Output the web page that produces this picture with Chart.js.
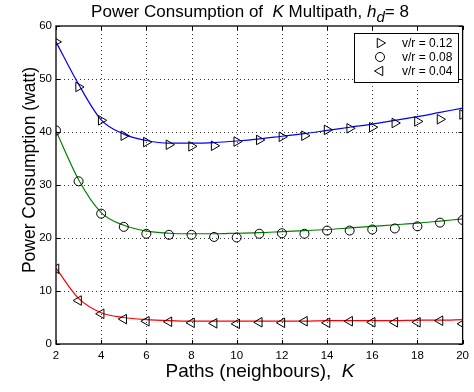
<!DOCTYPE html>
<html><head><meta charset="utf-8">
<script src="https://cdn.jsdelivr.net/npm/chart.js@4/dist/chart.umd.min.js"></script>
<style>html,body{margin:0;padding:0;background:#fff}</style>
</head><body>
<canvas id="c" width="474" height="392"></canvas>
<script>
const paths = [2,3,4,5,6,7,8,9,10,11,12,13,14,15,16,17,18,19,20];
const xTicks = [2,4,6,8,10,12,14,16,18,20];
const yTicks = [0,10,20,30,40,50,60];
const seriesLabels = ['v/r = 0.12','v/r = 0.08','v/r = 0.04'];
const measured012 = [57.0,48.5,42.2,39.3,38.1,37.6,37.3,37.4,38.2,38.5,39.1,39.3,40.4,40.7,40.9,41.7,42.0,42.4,43.3];
const measured008 = [40.3,30.7,24.6,22.1,20.8,20.6,20.6,20.2,20.1,20.8,20.9,20.8,21.4,21.4,21.6,21.8,22.2,22.9,23.4];
const measured004 = [14.2,8.2,5.7,4.7,4.3,4.2,4.0,3.9,3.8,4.1,4.0,4.3,4.0,4.3,4.1,4.1,4.1,4.4,3.8];
const fit012 = [57.0,49.0,42.3,39.6,38.4,37.9,37.9,38.0,38.3,38.7,39.2,39.7,40.3,40.9,41.5,42.2,42.9,43.7,44.5];
const fit008 = [40.2,31.0,24.8,22.4,21.3,20.9,20.8,20.8,20.9,21.0,21.2,21.4,21.6,21.9,22.2,22.5,22.8,23.2,23.6];
const fit004 = [14.3,8.6,5.9,5.0,4.6,4.4,4.3,4.3,4.3,4.3,4.3,4.3,4.4,4.4,4.4,4.4,4.5,4.5,4.6];
const lineColors = ['#0000ff','#008000','#ff0000'];
const markerStyles = [['triangle',90],['circle',0],['triangle',-90]];

const pts = arr => paths.map((k,i)=>({x:k,y:arr[i]}));
const fits = [fit012,fit008,fit004];
const meas = [measured012,measured008,measured004];
const datasets = [];
fits.forEach((f,i)=>datasets.push({type:'line',label:'fit'+i,data:pts(f),borderColor:lineColors[i],borderWidth:1.2,pointRadius:0,tension:0.4,cubicInterpolationMode:'monotone',fill:false,order:2}));
meas.forEach((m,i)=>datasets.push({type:'scatter',label:seriesLabels[i],data:pts(m),pointStyle:markerStyles[i][0],rotation:markerStyles[i][1],pointRadius:i===1?4.5:5.5,borderColor:'#000',backgroundColor:'rgba(0,0,0,0)',pointBorderWidth:1,showLine:false,order:1}));

const FONT = '"Liberation Sans", Arial, sans-serif';
const gridPlugin = {
  id:'gridDots',
  beforeDatasetsDraw(chart){
    const ctx = chart.ctx, a = chart.chartArea, xs = chart.scales.x, ys = chart.scales.y;
    ctx.save();
    ctx.strokeStyle='#333'; ctx.lineWidth=1; ctx.setLineDash([1,3]);
    ctx.beginPath();
    xTicks.slice(1,-1).forEach(t=>{const px=Math.round(xs.getPixelForValue(t))+0.5; ctx.moveTo(px,a.top); ctx.lineTo(px,a.bottom);});
    yTicks.slice(1,-1).forEach(t=>{const py=Math.round(ys.getPixelForValue(t))+0.5; ctx.moveTo(a.left,py); ctx.lineTo(a.right,py);});
    ctx.stroke();
    ctx.restore();
  }
};
const deco = {
  id:'deco',
  afterDraw(chart){
    const ctx = chart.ctx, a = chart.chartArea, xs = chart.scales.x, ys = chart.scales.y;
    ctx.save();
    ctx.strokeStyle='#000'; ctx.lineWidth=1;
    ctx.beginPath();
    xTicks.forEach(t=>{const px=Math.round(xs.getPixelForValue(t))+0.5; ctx.moveTo(px,a.bottom); ctx.lineTo(px,a.bottom-4); ctx.moveTo(px,a.top); ctx.lineTo(px,a.top+4);});
    yTicks.forEach(t=>{const py=Math.round(ys.getPixelForValue(t))+0.5; ctx.moveTo(a.left,py); ctx.lineTo(a.left+4,py); ctx.moveTo(a.right,py); ctx.lineTo(a.right-4,py);});
    ctx.stroke();
    ctx.lineWidth=1.3;
    ctx.strokeRect(a.left,a.top,a.right-a.left,a.bottom-a.top);
    // legend
    const lx=354, ly=33, lw=104, lh=49;
    ctx.fillStyle='#fff'; ctx.fillRect(lx,ly,lw,lh);
    ctx.lineWidth=1; ctx.strokeStyle='#000'; ctx.strokeRect(lx+0.5,ly+0.5,lw,lh);
    ctx.font='12px '+FONT; ctx.textBaseline='middle'; ctx.textAlign='left';
    const rowsY=[43,57,71];
    seriesLabels.forEach((lab,i)=>{
      ctx.fillStyle='rgba(0,0,0,0)'; ctx.strokeStyle='#000'; ctx.lineWidth=1;
      Chart.helpers.drawPoint(ctx,{pointStyle:markerStyles[i][0],rotation:markerStyles[i][1],radius:i===1?4.5:5.5,borderWidth:1},380,rowsY[i]);
      ctx.fillStyle='#000';
      ctx.fillText(lab,402,rowsY[i]+0.5);
    });
    // title
    ctx.fillStyle='#000';
    ctx.textBaseline='alphabetic';
    const parts=[['Power Consumption of  ','17px '+FONT,0],['K','italic 17px '+FONT,0],[' Multipath, ','17px '+FONT,0],['h','italic 17px '+FONT,0],['d','italic 15px '+FONT,5],['= 8','17px '+FONT,0]];
    let tw=0; parts.forEach(p=>{ctx.font=p[1]; tw+=ctx.measureText(p[0]).width;});
    let x=250-tw/2;
    parts.forEach(p=>{ctx.font=p[1]; ctx.fillText(p[0],x,17+p[2]); x+=ctx.measureText(p[0]).width;});
    // x label
    const xp=[['Paths (neighbours),  ','19px '+FONT],['K','italic 19px '+FONT]];
    tw=0; xp.forEach(p=>{ctx.font=p[1]; tw+=ctx.measureText(p[0]).width;});
    x=260-tw/2;
    xp.forEach(p=>{ctx.font=p[1]; ctx.fillText(p[0],x,377); x+=ctx.measureText(p[0]).width;});
    // y label
    ctx.translate(35,170); ctx.rotate(-Math.PI/2);
    ctx.font='17.5px '+FONT; ctx.textAlign='center';
    ctx.fillText('Power Consumption (watt)',0,0);
    ctx.restore();
  }
};

new Chart(document.getElementById('c'),{
  data:{datasets},
  options:{
    responsive:false, animation:false,
    layout:{padding:{left:0,right:11,top:26,bottom:0}},
    plugins:{legend:{display:false},tooltip:{enabled:false},title:{display:false}},
    scales:{
      x:{type:'linear',min:2,max:20,
        afterBuildTicks:s=>{s.ticks=xTicks.map(v=>({value:v}));},
        afterFit:s=>{s.height=48;},
        grid:{display:false,drawTicks:false,tickLength:0},
        border:{display:false},
        ticks:{color:'#000',font:{family:FONT,size:11.5},padding:5,maxRotation:0}},
      y:{type:'linear',min:0,max:60,
        afterBuildTicks:s=>{s.ticks=yTicks.map(v=>({value:v}));},
        afterFit:s=>{s.width=56;},
        grid:{display:false,drawTicks:false,tickLength:0},
        border:{display:false},
        ticks:{color:'#000',font:{family:FONT,size:11.5},padding:4}}
    }
  },
  plugins:[gridPlugin,deco]
});
</script>
</body></html>
